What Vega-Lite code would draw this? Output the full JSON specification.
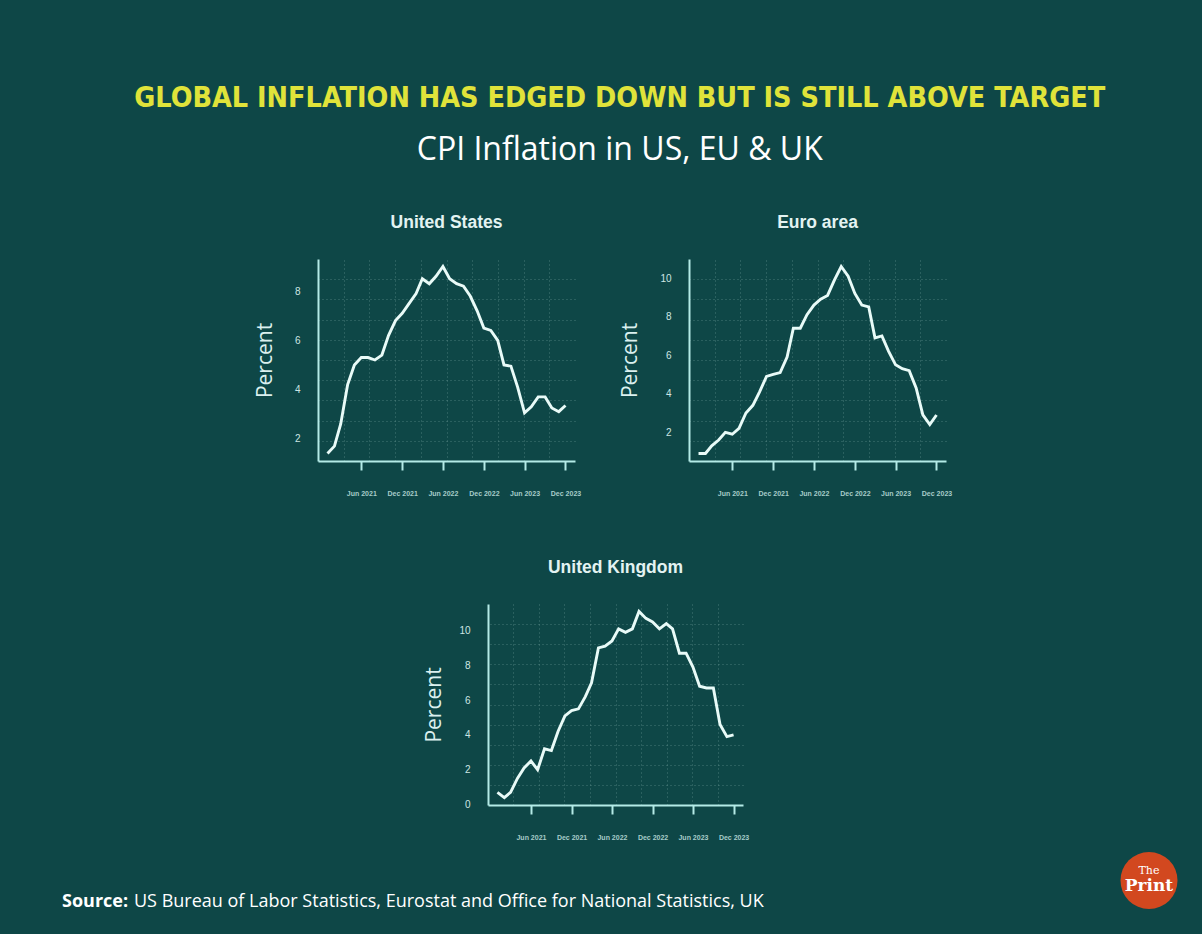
{
  "$schema": "https://vega.github.io/schema/vega-lite/v6.json",
  "background": "#0e4747",
  "padding": {"left": 62, "top": 84, "right": 24.5, "bottom": 23},
  "title": {
    "text": "GLOBAL INFLATION HAS EDGED DOWN BUT IS STILL ABOVE TARGET",
    "subtitle": "CPI Inflation in US, EU & UK",
    "anchor": "middle",
    "frame": "bounds",
    "font": "DejaVu Sans Condensed",
    "fontSize": 28.5,
    "fontWeight": "bold",
    "color": "#e0e33a",
    "subtitleFont": "Open Sans",
    "subtitleFontSize": 32,
    "subtitleFontWeight": "normal",
    "subtitleColor": "#ffffff",
    "subtitlePadding": 22,
    "offset": 48.5
  },
  "data": {
    "values": [
      {"country": "United States", "date": "2021-01-01", "cpi": 1.4},
      {"country": "United States", "date": "2021-02-01", "cpi": 1.7},
      {"country": "United States", "date": "2021-03-01", "cpi": 2.6},
      {"country": "United States", "date": "2021-04-01", "cpi": 4.2},
      {"country": "United States", "date": "2021-05-01", "cpi": 5.0},
      {"country": "United States", "date": "2021-06-01", "cpi": 5.3},
      {"country": "United States", "date": "2021-07-01", "cpi": 5.3},
      {"country": "United States", "date": "2021-08-01", "cpi": 5.2},
      {"country": "United States", "date": "2021-09-01", "cpi": 5.4},
      {"country": "United States", "date": "2021-10-01", "cpi": 6.2},
      {"country": "United States", "date": "2021-11-01", "cpi": 6.8},
      {"country": "United States", "date": "2021-12-01", "cpi": 7.1},
      {"country": "United States", "date": "2022-01-01", "cpi": 7.5},
      {"country": "United States", "date": "2022-02-01", "cpi": 7.9},
      {"country": "United States", "date": "2022-03-01", "cpi": 8.5},
      {"country": "United States", "date": "2022-04-01", "cpi": 8.3},
      {"country": "United States", "date": "2022-05-01", "cpi": 8.6},
      {"country": "United States", "date": "2022-06-01", "cpi": 9.0},
      {"country": "United States", "date": "2022-07-01", "cpi": 8.5},
      {"country": "United States", "date": "2022-08-01", "cpi": 8.3},
      {"country": "United States", "date": "2022-09-01", "cpi": 8.2},
      {"country": "United States", "date": "2022-10-01", "cpi": 7.8},
      {"country": "United States", "date": "2022-11-01", "cpi": 7.2},
      {"country": "United States", "date": "2022-12-01", "cpi": 6.5},
      {"country": "United States", "date": "2023-01-01", "cpi": 6.4},
      {"country": "United States", "date": "2023-02-01", "cpi": 6.0},
      {"country": "United States", "date": "2023-03-01", "cpi": 5.0},
      {"country": "United States", "date": "2023-04-01", "cpi": 4.95},
      {"country": "United States", "date": "2023-05-01", "cpi": 4.1},
      {"country": "United States", "date": "2023-06-01", "cpi": 3.05},
      {"country": "United States", "date": "2023-07-01", "cpi": 3.3},
      {"country": "United States", "date": "2023-08-01", "cpi": 3.7},
      {"country": "United States", "date": "2023-09-01", "cpi": 3.7},
      {"country": "United States", "date": "2023-10-01", "cpi": 3.25},
      {"country": "United States", "date": "2023-11-01", "cpi": 3.1},
      {"country": "United States", "date": "2023-12-01", "cpi": 3.35},
      {"country": "Euro area", "date": "2021-01-01", "cpi": 0.9},
      {"country": "Euro area", "date": "2021-02-01", "cpi": 0.9},
      {"country": "Euro area", "date": "2021-03-01", "cpi": 1.3},
      {"country": "Euro area", "date": "2021-04-01", "cpi": 1.6},
      {"country": "Euro area", "date": "2021-05-01", "cpi": 2.0},
      {"country": "Euro area", "date": "2021-06-01", "cpi": 1.9},
      {"country": "Euro area", "date": "2021-07-01", "cpi": 2.2},
      {"country": "Euro area", "date": "2021-08-01", "cpi": 3.0},
      {"country": "Euro area", "date": "2021-09-01", "cpi": 3.4},
      {"country": "Euro area", "date": "2021-10-01", "cpi": 4.1},
      {"country": "Euro area", "date": "2021-11-01", "cpi": 4.9},
      {"country": "Euro area", "date": "2021-12-01", "cpi": 5.0},
      {"country": "Euro area", "date": "2022-01-01", "cpi": 5.1},
      {"country": "Euro area", "date": "2022-02-01", "cpi": 5.9},
      {"country": "Euro area", "date": "2022-03-01", "cpi": 7.4},
      {"country": "Euro area", "date": "2022-04-01", "cpi": 7.4},
      {"country": "Euro area", "date": "2022-05-01", "cpi": 8.1},
      {"country": "Euro area", "date": "2022-06-01", "cpi": 8.6},
      {"country": "Euro area", "date": "2022-07-01", "cpi": 8.9},
      {"country": "Euro area", "date": "2022-08-01", "cpi": 9.1},
      {"country": "Euro area", "date": "2022-09-01", "cpi": 9.9},
      {"country": "Euro area", "date": "2022-10-01", "cpi": 10.6},
      {"country": "Euro area", "date": "2022-11-01", "cpi": 10.1},
      {"country": "Euro area", "date": "2022-12-01", "cpi": 9.2},
      {"country": "Euro area", "date": "2023-01-01", "cpi": 8.6},
      {"country": "Euro area", "date": "2023-02-01", "cpi": 8.5},
      {"country": "Euro area", "date": "2023-03-01", "cpi": 6.9},
      {"country": "Euro area", "date": "2023-04-01", "cpi": 7.0},
      {"country": "Euro area", "date": "2023-05-01", "cpi": 6.2},
      {"country": "Euro area", "date": "2023-06-01", "cpi": 5.5},
      {"country": "Euro area", "date": "2023-07-01", "cpi": 5.3},
      {"country": "Euro area", "date": "2023-08-01", "cpi": 5.2},
      {"country": "Euro area", "date": "2023-09-01", "cpi": 4.3},
      {"country": "Euro area", "date": "2023-10-01", "cpi": 2.9},
      {"country": "Euro area", "date": "2023-11-01", "cpi": 2.4},
      {"country": "Euro area", "date": "2023-12-01", "cpi": 2.9},
      {"country": "United Kingdom", "date": "2021-01-01", "cpi": 0.7},
      {"country": "United Kingdom", "date": "2021-02-01", "cpi": 0.4},
      {"country": "United Kingdom", "date": "2021-03-01", "cpi": 0.7},
      {"country": "United Kingdom", "date": "2021-04-01", "cpi": 1.5},
      {"country": "United Kingdom", "date": "2021-05-01", "cpi": 2.1},
      {"country": "United Kingdom", "date": "2021-06-01", "cpi": 2.5},
      {"country": "United Kingdom", "date": "2021-07-01", "cpi": 2.0},
      {"country": "United Kingdom", "date": "2021-08-01", "cpi": 3.2},
      {"country": "United Kingdom", "date": "2021-09-01", "cpi": 3.1},
      {"country": "United Kingdom", "date": "2021-10-01", "cpi": 4.2},
      {"country": "United Kingdom", "date": "2021-11-01", "cpi": 5.1},
      {"country": "United Kingdom", "date": "2021-12-01", "cpi": 5.4},
      {"country": "United Kingdom", "date": "2022-01-01", "cpi": 5.5},
      {"country": "United Kingdom", "date": "2022-02-01", "cpi": 6.2},
      {"country": "United Kingdom", "date": "2022-03-01", "cpi": 7.0},
      {"country": "United Kingdom", "date": "2022-04-01", "cpi": 9.0},
      {"country": "United Kingdom", "date": "2022-05-01", "cpi": 9.1},
      {"country": "United Kingdom", "date": "2022-06-01", "cpi": 9.4},
      {"country": "United Kingdom", "date": "2022-07-01", "cpi": 10.1},
      {"country": "United Kingdom", "date": "2022-08-01", "cpi": 9.9},
      {"country": "United Kingdom", "date": "2022-09-01", "cpi": 10.1},
      {"country": "United Kingdom", "date": "2022-10-01", "cpi": 11.1},
      {"country": "United Kingdom", "date": "2022-11-01", "cpi": 10.7},
      {"country": "United Kingdom", "date": "2022-12-01", "cpi": 10.5},
      {"country": "United Kingdom", "date": "2023-01-01", "cpi": 10.1},
      {"country": "United Kingdom", "date": "2023-02-01", "cpi": 10.4},
      {"country": "United Kingdom", "date": "2023-03-01", "cpi": 10.1},
      {"country": "United Kingdom", "date": "2023-04-01", "cpi": 8.7},
      {"country": "United Kingdom", "date": "2023-05-01", "cpi": 8.7},
      {"country": "United Kingdom", "date": "2023-06-01", "cpi": 7.9},
      {"country": "United Kingdom", "date": "2023-07-01", "cpi": 6.8},
      {"country": "United Kingdom", "date": "2023-08-01", "cpi": 6.7},
      {"country": "United Kingdom", "date": "2023-09-01", "cpi": 6.7},
      {"country": "United Kingdom", "date": "2023-10-01", "cpi": 4.6},
      {"country": "United Kingdom", "date": "2023-11-01", "cpi": 3.9},
      {"country": "United Kingdom", "date": "2023-12-01", "cpi": 4.0}
    ]
  },
  "config": {
    "view": {"stroke": null},
    "font": "Liberation Sans",
    "title": {"font": "Liberation Sans", "fontSize": 17.5, "fontWeight": "bold", "color": "#e3f3f2", "offset": 27.3, "frame": "group", "anchor": "middle"},
    "axis": {
      "domainColor": "#b4ebe7", "domainWidth": 2, "tickColor": "#b4ebe7", "tickWidth": 2, "tickSize": 9,
      "gridColor": "#8db8b4", "gridOpacity": 0.45, "gridDash": [1, 3], "gridWidth": 1,
      "labelFont": "Liberation Sans", "titleFont": "Open Sans", "titleFontWeight": "normal", "titleFontSize": 21,
      "titleColor": "#dbf0ef", "labelFlush": false, "labelOverlap": false
    },
    "axisX": {"labelFontSize": 7, "labelFontWeight": "bold", "labelColor": "#a6ccc9", "labelPadding": 19},
    "axisY": {"labelFontSize": 10, "labelColor": "#cde6e3", "labelPadding": 18, "ticks": false, "titlePadding": 19}
  },
  "bounds": "flush",
  "spacing": 345,
  "vconcat": [
    {
      "bounds": "flush",
      "spacing": 114,
      "hconcat": [
        {
          "width": 257, "height": 202,
          "title": "United States",
          "transform": [{"filter": "datum.country === 'United States'"}],
          "layer": [
            {
              "mark": {"type": "line", "opacity": 0},
              "encoding": {
                "x": {"field": "date", "type": "temporal",
                  "scale": {"type": "utc", "domain": [{"year": 2020, "month": 11, "date": 19, "hours": 10, "utc": true}, {"year": 2024, "month": 1, "date": 12, "hours": 13, "utc": true}]},
                  "axis": {"orient": "top", "grid": true, "labels": false, "ticks": false, "domain": false, "title": null,
                    "values": [{"year": 2021, "month": 3, "date": 14, "utc": true}, {"year": 2021, "month": 7, "date": 7, "utc": true}, {"year": 2021, "month": 10, "date": 30, "utc": true}, {"year": 2022, "month": 2, "date": 22, "utc": true}, {"year": 2022, "month": 6, "date": 17, "utc": true}, {"year": 2022, "month": 10, "date": 10, "utc": true}, {"year": 2023, "month": 2, "date": 2, "utc": true}, {"year": 2023, "month": 5, "date": 28, "utc": true}, {"year": 2023, "month": 9, "date": 20, "utc": true}]}},
                "y": {"field": "cpi", "type": "quantitative",
                  "scale": {"domain": [1.096, 9.304], "nice": false, "zero": false},
                  "axis": {"orient": "right", "grid": true, "labels": false, "ticks": false, "domain": false, "title": null,
                    "values": [1.917, 2.738, 3.558, 4.379, 5.2, 6.021, 6.842, 7.662, 8.483]}}
              }
            },
            {
              "mark": {"type": "line", "color": "#e9fbf8", "strokeWidth": 2.9},
              "encoding": {
                "x": {"field": "date", "type": "temporal",
                  "scale": {"type": "utc", "domain": [{"year": 2020, "month": 11, "date": 19, "hours": 10, "utc": true}, {"year": 2024, "month": 1, "date": 12, "hours": 13, "utc": true}]},
                  "axis": {"orient": "bottom", "grid": false, "title": null, "labelExpr": "utcFormat(datum.value, '%b %Y')",
                    "values": [{"year": 2021, "month": 6, "date": 1, "utc": true}, {"year": 2021, "month": 12, "date": 1, "utc": true}, {"year": 2022, "month": 6, "date": 1, "utc": true}, {"year": 2022, "month": 12, "date": 1, "utc": true}, {"year": 2023, "month": 6, "date": 1, "utc": true}, {"year": 2023, "month": 12, "date": 1, "utc": true}]}},
                "y": {"field": "cpi", "type": "quantitative",
                  "scale": {"domain": [1.096, 9.304], "nice": false, "zero": false},
                  "axis": {"orient": "left", "grid": false, "title": "Percent", "values": [2, 4, 6, 8]}}
              }
            }
          ],
          "resolve": {"axis": {"x": "independent", "y": "independent"}}
        },
        {
          "width": 257, "height": 202,
          "title": "Euro area",
          "transform": [{"filter": "datum.country === 'Euro area'"}],
          "layer": [
            {
              "mark": {"type": "line", "opacity": 0},
              "encoding": {
                "x": {"field": "date", "type": "temporal",
                  "scale": {"type": "utc", "domain": [{"year": 2020, "month": 11, "date": 19, "hours": 10, "utc": true}, {"year": 2024, "month": 1, "date": 12, "hours": 13, "utc": true}]},
                  "axis": {"orient": "top", "grid": true, "labels": false, "ticks": false, "domain": false, "title": null,
                    "values": [{"year": 2021, "month": 3, "date": 14, "utc": true}, {"year": 2021, "month": 7, "date": 7, "utc": true}, {"year": 2021, "month": 10, "date": 30, "utc": true}, {"year": 2022, "month": 2, "date": 22, "utc": true}, {"year": 2022, "month": 6, "date": 17, "utc": true}, {"year": 2022, "month": 10, "date": 10, "utc": true}, {"year": 2023, "month": 2, "date": 2, "utc": true}, {"year": 2023, "month": 5, "date": 28, "utc": true}, {"year": 2023, "month": 9, "date": 20, "utc": true}]}},
                "y": {"field": "cpi", "type": "quantitative",
                  "scale": {"domain": [0.512, 10.988], "nice": false, "zero": false},
                  "axis": {"orient": "right", "grid": true, "labels": false, "ticks": false, "domain": false, "title": null,
                    "values": [1.56, 2.607, 3.655, 4.702, 5.75, 6.798, 7.845, 8.893, 9.94]}}
              }
            },
            {
              "mark": {"type": "line", "color": "#e9fbf8", "strokeWidth": 2.9},
              "encoding": {
                "x": {"field": "date", "type": "temporal",
                  "scale": {"type": "utc", "domain": [{"year": 2020, "month": 11, "date": 19, "hours": 10, "utc": true}, {"year": 2024, "month": 1, "date": 12, "hours": 13, "utc": true}]},
                  "axis": {"orient": "bottom", "grid": false, "title": null, "labelExpr": "utcFormat(datum.value, '%b %Y')",
                    "values": [{"year": 2021, "month": 6, "date": 1, "utc": true}, {"year": 2021, "month": 12, "date": 1, "utc": true}, {"year": 2022, "month": 6, "date": 1, "utc": true}, {"year": 2022, "month": 12, "date": 1, "utc": true}, {"year": 2023, "month": 6, "date": 1, "utc": true}, {"year": 2023, "month": 12, "date": 1, "utc": true}]}},
                "y": {"field": "cpi", "type": "quantitative",
                  "scale": {"domain": [0.512, 10.988], "nice": false, "zero": false},
                  "axis": {"orient": "left", "grid": false, "title": "Percent", "values": [2, 4, 6, 8, 10]}}
              }
            }
          ],
          "resolve": {"axis": {"x": "independent", "y": "independent"}}
        }
      ]
    },
    {
      "bounds": "flush",
      "spacing": 0,
      "hconcat": [
        {
          "width": 170, "height": 201,
          "data": {"values": [{}]},
          "layer": [
            {"mark": {"type": "text", "text": "Source:", "font": "Open Sans", "fontWeight": "bold", "fontSize": 18, "color": "#ffffff", "align": "left", "baseline": "alphabetic"},
             "encoding": {"x": {"value": -256}, "y": {"value": 303}}},
            {"mark": {"type": "text", "text": "US Bureau of Labor Statistics, Eurostat and Office for National Statistics, UK", "font": "Open Sans", "fontWeight": "normal", "fontSize": 18, "color": "#ffffff", "align": "left", "baseline": "alphabetic"},
             "encoding": {"x": {"value": -184}, "y": {"value": 303}}},
            {"mark": {"type": "point", "shape": "circle", "filled": true, "size": 3249, "color": "#d2481f", "opacity": 1},
             "encoding": {"x": {"value": 831}, "y": {"value": 276.5}}},
            {"mark": {"type": "text", "text": "The", "font": "DejaVu Serif", "fontSize": 11, "color": "#ffffff", "align": "center", "baseline": "middle"},
             "encoding": {"x": {"value": 831}, "y": {"value": 267}}},
            {"mark": {"type": "text", "text": "Print", "font": "DejaVu Serif", "fontWeight": "bold", "fontSize": 17, "color": "#ffffff", "align": "center", "baseline": "middle"},
             "encoding": {"x": {"value": 831}, "y": {"value": 282}}}
          ]
        },
        {
          "width": 255, "height": 201,
          "title": "United Kingdom",
          "transform": [{"filter": "datum.country === 'United Kingdom'"}],
          "layer": [
            {
              "mark": {"type": "line", "opacity": 0},
              "encoding": {
                "x": {"field": "date", "type": "temporal",
                  "scale": {"type": "utc", "domain": [{"year": 2020, "month": 11, "date": 19, "hours": 10, "utc": true}, {"year": 2024, "month": 1, "date": 12, "hours": 13, "utc": true}]},
                  "axis": {"orient": "top", "grid": true, "labels": false, "ticks": false, "domain": false, "title": null,
                    "values": [{"year": 2021, "month": 3, "date": 14, "utc": true}, {"year": 2021, "month": 7, "date": 7, "utc": true}, {"year": 2021, "month": 10, "date": 30, "utc": true}, {"year": 2022, "month": 2, "date": 22, "utc": true}, {"year": 2022, "month": 6, "date": 17, "utc": true}, {"year": 2022, "month": 10, "date": 10, "utc": true}, {"year": 2023, "month": 2, "date": 2, "utc": true}, {"year": 2023, "month": 5, "date": 28, "utc": true}, {"year": 2023, "month": 9, "date": 20, "utc": true}]}},
                "y": {"field": "cpi", "type": "quantitative",
                  "scale": {"domain": [-0.028, 11.528], "nice": false, "zero": false},
                  "axis": {"orient": "right", "grid": true, "labels": false, "ticks": false, "domain": false, "title": null,
                    "values": [1.128, 2.283, 3.439, 4.594, 5.75, 6.906, 8.061, 9.217, 10.372]}}
              }
            },
            {
              "mark": {"type": "line", "color": "#e9fbf8", "strokeWidth": 2.9},
              "encoding": {
                "x": {"field": "date", "type": "temporal",
                  "scale": {"type": "utc", "domain": [{"year": 2020, "month": 11, "date": 19, "hours": 10, "utc": true}, {"year": 2024, "month": 1, "date": 12, "hours": 13, "utc": true}]},
                  "axis": {"orient": "bottom", "grid": false, "title": null, "labelExpr": "utcFormat(datum.value, '%b %Y')",
                    "values": [{"year": 2021, "month": 6, "date": 1, "utc": true}, {"year": 2021, "month": 12, "date": 1, "utc": true}, {"year": 2022, "month": 6, "date": 1, "utc": true}, {"year": 2022, "month": 12, "date": 1, "utc": true}, {"year": 2023, "month": 6, "date": 1, "utc": true}, {"year": 2023, "month": 12, "date": 1, "utc": true}]}},
                "y": {"field": "cpi", "type": "quantitative",
                  "scale": {"domain": [-0.028, 11.528], "nice": false, "zero": false},
                  "axis": {"orient": "left", "grid": false, "title": "Percent", "titlePadding": 14, "values": [0, 2, 4, 6, 8, 10]}}
              }
            }
          ],
          "resolve": {"axis": {"x": "independent", "y": "independent"}}
        }
      ]
    }
  ]
}
